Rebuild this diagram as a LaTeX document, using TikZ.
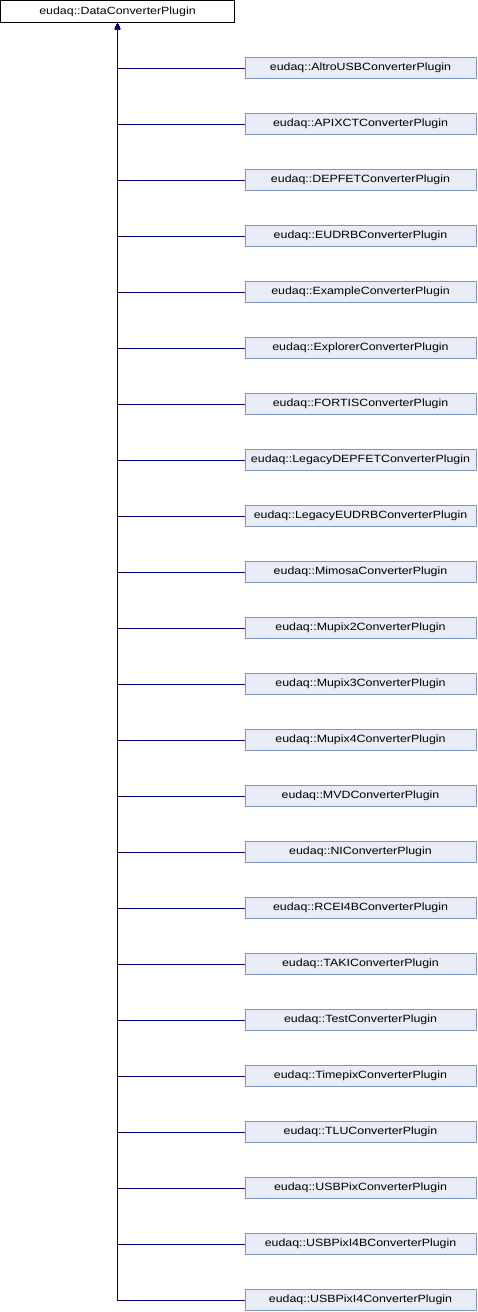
\documentclass[tikz,border=0pt]{standalone}
\usepackage{fontspec}
\setmainfont{Liberation Sans}[FakeStretch=1.18]
\usetikzlibrary{arrows.meta}
\definecolor{edgeblue}{RGB}{0,0,128}
\definecolor{boxfill}{RGB}{232,236,246}
\definecolor{boxline}{RGB}{124,149,198}
\begin{document}
\begin{tikzpicture}[x=1pt,y=1pt,
  font=\fontsize{10.5}{12}\selectfont,
  base/.style={draw, line width=1pt, inner sep=0pt, text=black},
  parentbox/.style={base, fill=white, minimum width=234pt, minimum height=22pt},
  childbox/.style={base, draw=boxline, fill=boxfill, minimum width=231pt, minimum height=21pt},
  conn/.style={draw=edgeblue, line width=1pt, -{Triangle[length=6pt,width=5pt]}}]
\useasboundingbox (0,0) rectangle (478,-1312);
\node[parentbox] (top) at (117.5,-11.5) {eudaq::DataConverterPlugin};
\foreach \nm [count=\i from 0] in {AltroUSB,APIXCT,DEPFET,EUDRB,Example,Explorer,FORTIS,LegacyDEPFET,LegacyEUDRB,Mimosa,Mupix2,Mupix3,Mupix4,MVD,NI,RCEI4B,TAKI,Test,Timepix,TLU,USBPix,USBPixI4B,USBPixI4}{
  \node[childbox] (c\i) at (360.5,{-68-56*\i}) {eudaq::\nm ConverterPlugin};
  \draw[conn] (c\i.west) -| (top.south);
}
\end{tikzpicture}
\end{document}
